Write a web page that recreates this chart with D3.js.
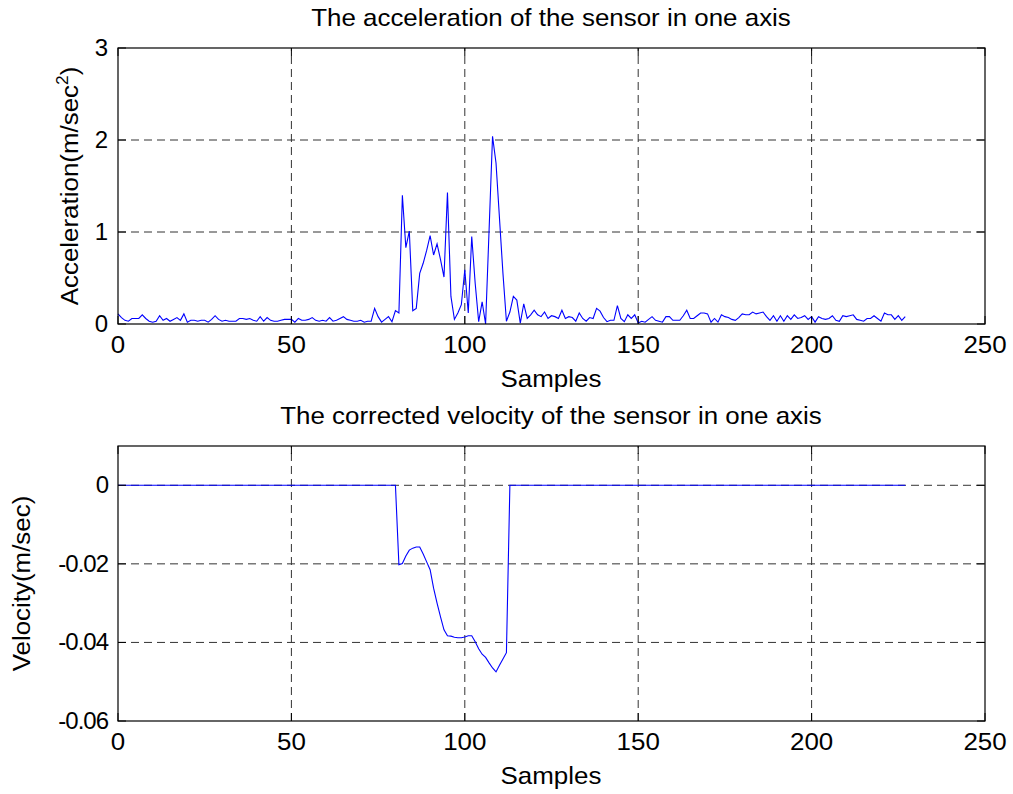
<!DOCTYPE html>
<html><head><meta charset="utf-8">
<script src="https://cdn.jsdelivr.net/npm/d3@7"></script>
<style>body{margin:0;background:#fff}svg{display:block}text{font-family:"Liberation Sans",Arial,sans-serif;fill:#000}</style>
</head><body>
<script>
const accTitle = "The acceleration of the sensor in one axis";
const velTitle = "The corrected velocity of the sensor in one axis";
const xLabel = "Samples";
const xTicks = [0, 50, 100, 150, 200, 250];
const accTicks = [0, 1, 2, 3];
const velTicks = [0, -0.02, -0.04, -0.06];
const velTickLabels = ["0", "-0.02", "-0.04", "-0.06"];

const acceleration = [
0.11,0.07,0.04,0.03,0.06,0.06,0.06,0.10,0.06,0.03,
0.02,0.03,0.09,0.04,0.06,0.03,0.05,0.07,0.04,0.11,
0.02,0.04,0.04,0.03,0.04,0.04,0.02,0.05,0.09,0.05,
0.03,0.04,0.03,0.03,0.03,0.06,0.06,0.05,0.06,0.04,
0.03,0.08,0.03,0.07,0.04,0.03,0.03,0.04,0.05,0.05,
0.05,0.02,0.06,0.04,0.04,0.05,0.07,0.04,0.03,0.04,
0.03,0.07,0.03,0.04,0.06,0.08,0.05,0.04,0.03,0.03,
0.04,0.02,0.03,0.03,0.17,0.08,0.02,0.05,0.08,0.025,
0.145,0.12,1.40,0.83,1.01,0.145,0.17,0.55,0.66,0.80,
0.96,0.75,0.87,0.70,0.51,1.43,0.30,0.05,0.12,0.21,
0.59,0.12,0.95,0.44,0.025,0.24,0.0,1.02,2.04,1.75,
1.15,0.55,0.03,0.13,0.30,0.26,0.01,0.22,0.06,0.10,
0.15,0.10,0.08,0.13,0.06,0.09,0.08,0.06,0.15,0.06,
0.08,0.07,0.03,0.12,0.06,0.03,0.07,0.06,0.17,0.14,
0.07,0.025,0.04,0.04,0.20,0.06,0.025,0.10,0.06,0.10,
0.01,0.03,0.02,0.05,0.08,0.04,0.03,0.02,0.08,0.08,
0.04,0.04,0.04,0.09,0.15,0.06,0.06,0.09,0.12,0.12,
0.11,0.02,0.06,0.02,0.10,0.08,0.07,0.05,0.04,0.07,
0.11,0.10,0.10,0.13,0.11,0.12,0.13,0.08,0.04,0.09,
0.03,0.09,0.03,0.09,0.05,0.10,0.06,0.07,0.09,0.05,
0.08,0.02,0.08,0.06,0.05,0.06,0.09,0.04,0.03,0.09,
0.08,0.09,0.10,0.05,0.04,0.03,0.06,0.06,0.09,0.06,
0.03,0.12,0.10,0.10,0.05,0.09,0.04,0.08
];

const velocity = [
0,0,0,0,0,0,0,0,0,0,0,0,0,0,0,0,0,0,0,0,
0,0,0,0,0,0,0,0,0,0,0,0,0,0,0,0,0,0,0,0,
0,0,0,0,0,0,0,0,0,0,0,0,0,0,0,0,0,0,0,0,
0,0,0,0,0,0,0,0,0,0,0,0,0,0,0,0,0,0,0,0,
0,-0.0202,-0.0199,-0.0180,-0.0165,-0.0160,-0.0157,-0.0157,-0.0175,-0.0195,
-0.0215,-0.0262,-0.0300,-0.0335,-0.0368,-0.0383,-0.0384,-0.0387,-0.0388,-0.0388,
-0.0386,-0.0383,-0.0383,-0.0398,-0.0416,-0.0430,-0.0438,-0.0452,-0.0465,-0.0475,
-0.0458,-0.0442,-0.0426,0,0,0,0,0,0,0,
0,0,0,0,0,0,0,0,0,0,0,0,0,0,0,0,0,0,0,0,
0,0,0,0,0,0,0,0,0,0,0,0,0,0,0,0,0,0,0,0,
0,0,0,0,0,0,0,0,0,0,0,0,0,0,0,0,0,0,0,0,
0,0,0,0,0,0,0,0,0,0,0,0,0,0,0,0,0,0,0,0,
0,0,0,0,0,0,0,0,0,0,0,0,0,0,0,0,0,0,0,0,
0,0,0,0,0,0,0,0
];

const W = 1013, H = 794, FS = 24, SX = 1.08;
const svg = d3.select("body").append("svg").attr("width", W).attr("height", H);
const x = d3.scaleLinear().domain([0, 250]).range([118, 985]);

function panel(cfg) {
  const y = d3.scaleLinear().domain(cfg.domain).range([cfg.bottom, cfg.top]);
  const g = svg.append("g");
  const xs = xTicks.filter(t => t > 0 && t < 250);
  g.selectAll(".gx").data(xs).join("line")
    .attr("x1", d => x(d)).attr("x2", d => x(d)).attr("y1", cfg.bottom).attr("y2", cfg.top)
    .attr("stroke", "#333").attr("stroke-width", 1).attr("stroke-dasharray", "8,5");
  const ys = cfg.ticks.filter(t => t > cfg.domain[0] && t < cfg.domain[1]);
  g.selectAll(".gy").data(ys).join("line")
    .attr("x1", 118).attr("x2", 985).attr("y1", d => y(d)).attr("y2", d => y(d))
    .attr("stroke", "#333").attr("stroke-width", 1).attr("stroke-dasharray", "8,5");
  const line = d3.line().x((d, i) => x(i)).y(d => y(d));
  g.append("path").datum(cfg.data).attr("d", line)
    .attr("fill", "none").attr("stroke", "#0000ff").attr("stroke-width", 1.1);
  g.append("rect").attr("x", 118).attr("y", cfg.top).attr("width", 867).attr("height", cfg.bottom - cfg.top)
    .attr("fill", "none").attr("stroke", "#000").attr("stroke-width", 1.2);
  const tl = 8;
  xTicks.forEach(t => {
    g.append("line").attr("x1", x(t)).attr("x2", x(t)).attr("y1", cfg.bottom).attr("y2", cfg.bottom - tl).attr("stroke", "#000");
    g.append("line").attr("x1", x(t)).attr("x2", x(t)).attr("y1", cfg.top).attr("y2", cfg.top + tl).attr("stroke", "#000");
  });
  cfg.ticks.forEach(t => {
    g.append("line").attr("x1", 118).attr("x2", 118 + tl).attr("y1", y(t)).attr("y2", y(t)).attr("stroke", "#000");
    g.append("line").attr("x1", 985).attr("x2", 985 - tl).attr("y1", y(t)).attr("y2", y(t)).attr("stroke", "#000");
  });
  g.selectAll(".xl").data(xTicks).join("text")
    .attr("transform", d => `translate(${x(d)},${cfg.bottom + 29}) scale(${SX},1)`).attr("text-anchor", "middle")
    .attr("font-size", FS).text(d => d);
  g.selectAll(".yl").data(cfg.ticks).join("text")
    .attr("transform", d => `translate(108,${y(d) + 8})`).attr("text-anchor", "end")
    .attr("letter-spacing", cfg.yls).attr("font-size", FS).text((d, i) => cfg.tickLabels[i]);
  g.append("text").attr("transform", `translate(551,${cfg.top - 22}) scale(${SX},1)`).attr("text-anchor", "middle")
    .attr("font-size", FS).text(cfg.title);
  g.append("text").attr("transform", `translate(551,${cfg.bottom + 63}) scale(${SX},1)`).attr("text-anchor", "middle")
    .attr("font-size", FS).text(xLabel);
  const yl = g.append("text").attr("transform", `translate(${cfg.ylx},${(cfg.top + cfg.bottom) / 2 + cfg.yoff}) rotate(-90) scale(${SX},1)`)
    .attr("text-anchor", "middle").attr("font-size", FS);
  cfg.ylabel(yl);
}

panel({
  domain: [0, 3], top: 48, bottom: 324, ticks: accTicks, tickLabels: accTicks.map(String),
  data: acceleration, title: accTitle, ylx: 78, yoff: 0, yls: 0,
  ylabel: t => {
    t.append("tspan").text("Acceleration(m/sec");
    t.append("tspan").attr("font-size", 16).attr("dy", -10).text("2");
    t.append("tspan").attr("dy", 10).text(")");
  }
});
panel({
  domain: [-0.06, 0.01], top: 446, bottom: 721, ticks: velTicks, tickLabels: velTickLabels,
  data: velocity, title: velTitle, ylx: 30, yoff: 0, yls: -1,
  ylabel: t => t.text("Velocity(m/sec)")
});
</script>
</body></html>
